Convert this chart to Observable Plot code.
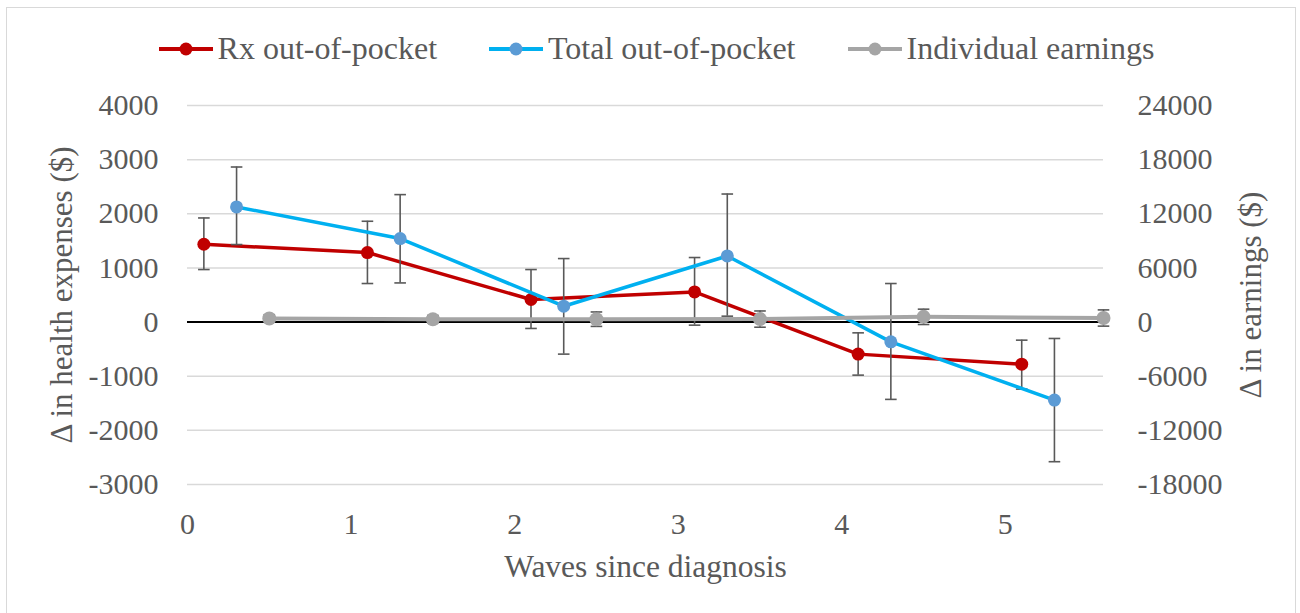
<!DOCTYPE html>
<html>
<head>
<meta charset="utf-8">
<script src="https://cdn.jsdelivr.net/npm/d3@7"></script>
<script src="https://cdn.jsdelivr.net/npm/@observablehq/plot@0.6"></script>
<style>
  html, body { margin: 0; padding: 0; background: #fff; }
  #wrap { position: relative; width: 1300px; height: 613px; overflow: hidden; font-family: 'Liberation Serif', 'DejaVu Serif', 'Times New Roman', Times, serif; color: #595959; }
  #border { position: absolute; left: 6px; top: 7px; width: 1290px; height: 620px; border: 1.5px solid #d9d9d9; pointer-events: none; box-sizing: border-box; }
  #legend { height: 75px; box-sizing: border-box; padding-top: 22px; padding-left: 13px; display: flex; justify-content: center; align-items: center; font-size: 32px; }
  .item { display: flex; align-items: center; margin: 0 26px; }
  .item svg { margin-right: 5px; }
  #chart svg { display: block; }
</style>
</head>
<body>
<div id="wrap">
  <div id="legend"></div>
  <div id="chart"></div>
  <div id="border"></div>
</div>
<script>
// ---- data ----
const seriesNames = ["Rx out-of-pocket", "Total out-of-pocket", "Individual earnings"];

const rxX   = [0.1, 1.1, 2.1, 3.1, 4.1, 5.1];
const rxVal = [1437, 1284, 417, 557, -592, -777];
const rxLo  = [970, 712, -118, -57, -980, -1238];
const rxHi  = [1923, 1862, 970, 1192, -199, -334];

const totX   = [0.3, 1.3, 2.3, 3.3, 4.3, 5.3];
const totVal = [2126, 1542, 293, 1221, -365, -1441];
const totLo  = [1432, 723, -592, 109, -1428, -2579];
const totHi  = [2864, 2354, 1173, 2365, 712, -303];

const earnX   = [0.5, 1.5, 2.5, 3.5, 4.5, 5.6];
const earnVal = [400, 320, 320, 330, 580, 450];
const earnErr = [400, 400, 800, 900, 850, 900];

const xTicks = [0, 1, 2, 3, 4, 5];
const leftTicks = [-3000, -2000, -1000, 0, 1000, 2000, 3000, 4000];
const rightTicks = [-18000, -12000, -6000, 0, 6000, 12000, 18000, 24000];

const xTitle = "Waves since diagnosis";
const leftTitle = "Δ in health expenses ($)";
const rightTitle = "Δ in earnings ($)";

// ---- build ----
const FONT = "'Liberation Serif', 'DejaVu Serif', 'Times New Roman', Times, serif";
const ratio = (rightTicks[rightTicks.length - 1] - rightTicks[0]) / (leftTicks[leftTicks.length - 1] - leftTicks[0]);

const rx = rxX.map((x, i) => ({x, y: rxVal[i], lo: rxLo[i], hi: rxHi[i]}));
const tot = totX.map((x, i) => ({x, y: totVal[i], lo: totLo[i], hi: totHi[i]}));
const earn = earnX.map((x, i) => ({x, y: earnVal[i] / ratio, lo: (earnVal[i] - earnErr[i]) / ratio, hi: (earnVal[i] + earnErr[i]) / ratio}));

const colors = {
  rxLine: "#C00000", rxDot: "#C00000",
  totLine: "#00B0F0", totDot: "#5B9BD5",
  earnLine: "#A5A5A5", earnDot: "#A5A5A5"
};
const errColor = "#595959";

const cap = {
  draw(ctx, size) {
    const w = Math.sqrt(size / Math.PI);
    ctx.moveTo(-w, 0);
    ctx.lineTo(w, 0);
  }
};

function errorBars(data) {
  return [
    Plot.ruleX(data, {x: "x", y1: "lo", y2: "hi", stroke: errColor, strokeWidth: 1.6}),
    Plot.dot(data, {x: "x", y: "lo", symbol: cap, r: 5.8, fill: "none", stroke: errColor, strokeWidth: 1.6}),
    Plot.dot(data, {x: "x", y: "hi", symbol: cap, r: 5.8, fill: "none", stroke: errColor, strokeWidth: 1.6})
  ];
}

const chart = Plot.plot({
  width: 1300,
  height: 538,
  marginTop: 30,
  marginBottom: 129,
  marginLeft: 187,
  marginRight: 197,
  style: {fontFamily: FONT, fontSize: "30px", color: "#595959", background: "transparent"},
  x: {domain: [0, 5.6]},
  y: {domain: [leftTicks[0], leftTicks[leftTicks.length - 1]]},
  marks: [
    Plot.gridY(leftTicks, {stroke: "#d9d9d9", strokeOpacity: 1, strokeWidth: 1.5}),
    Plot.ruleY([0], {stroke: "#000", strokeWidth: 2}),
    Plot.axisX({ticks: xTicks, tickSize: 0, tickPadding: 28, tickFormat: d => String(d), label: null}),
    Plot.axisY({anchor: "left", ticks: leftTicks, tickSize: 0, tickPadding: 29, tickFormat: d => String(d), label: null}),
    Plot.axisY({anchor: "right", ticks: rightTicks.map(v => v / ratio), tickSize: 0, tickPadding: 34, tickFormat: d => String(Math.round(d * ratio)), label: null}),
    Plot.text([leftTitle], {frameAnchor: "left", textAnchor: "middle", dx: -125, rotate: -90, text: d => d, fontSize: 31, fill: "#595959"}),
    Plot.text([rightTitle], {frameAnchor: "right", textAnchor: "middle", dx: 148, rotate: -90, text: d => d, fontSize: 31, fill: "#595959"}),
    Plot.text([xTitle], {frameAnchor: "bottom", dy: 92, text: d => d, fontSize: 31.5, fill: "#595959"}),
    ...errorBars(rx),
    Plot.line(rx, {x: "x", y: "y", stroke: colors.rxLine, strokeWidth: 3.5}),
    Plot.dot(rx, {x: "x", y: "y", r: 6.5, fill: colors.rxDot, stroke: "none"}),
    ...errorBars(tot),
    Plot.line(tot, {x: "x", y: "y", stroke: colors.totLine, strokeWidth: 3.5}),
    Plot.dot(tot, {x: "x", y: "y", r: 6.5, fill: colors.totDot, stroke: "none"}),
    ...errorBars(earn),
    Plot.line(earn, {x: "x", y: "y", stroke: colors.earnLine, strokeWidth: 4}),
    Plot.dot(earn, {x: "x", y: "y", r: 7, fill: colors.earnDot, stroke: "none"})
  ]
});
document.getElementById("chart").appendChild(chart);

// legend
const legendSpec = [
  [seriesNames[0], colors.rxLine, colors.rxDot],
  [seriesNames[1], colors.totLine, colors.totDot],
  [seriesNames[2], colors.earnLine, colors.earnDot]
];
const legend = document.getElementById("legend");
for (const [name, lc, dc] of legendSpec) {
  const item = document.createElement("div");
  item.className = "item";
  item.innerHTML = `<svg width="54" height="20"><line x1="0" y1="10" x2="54" y2="10" stroke="${lc}" stroke-width="4"/><circle cx="27" cy="10" r="6.5" fill="${dc}"/></svg><span>${name}</span>`;
  legend.appendChild(item);
}
</script>
</body>
</html>
